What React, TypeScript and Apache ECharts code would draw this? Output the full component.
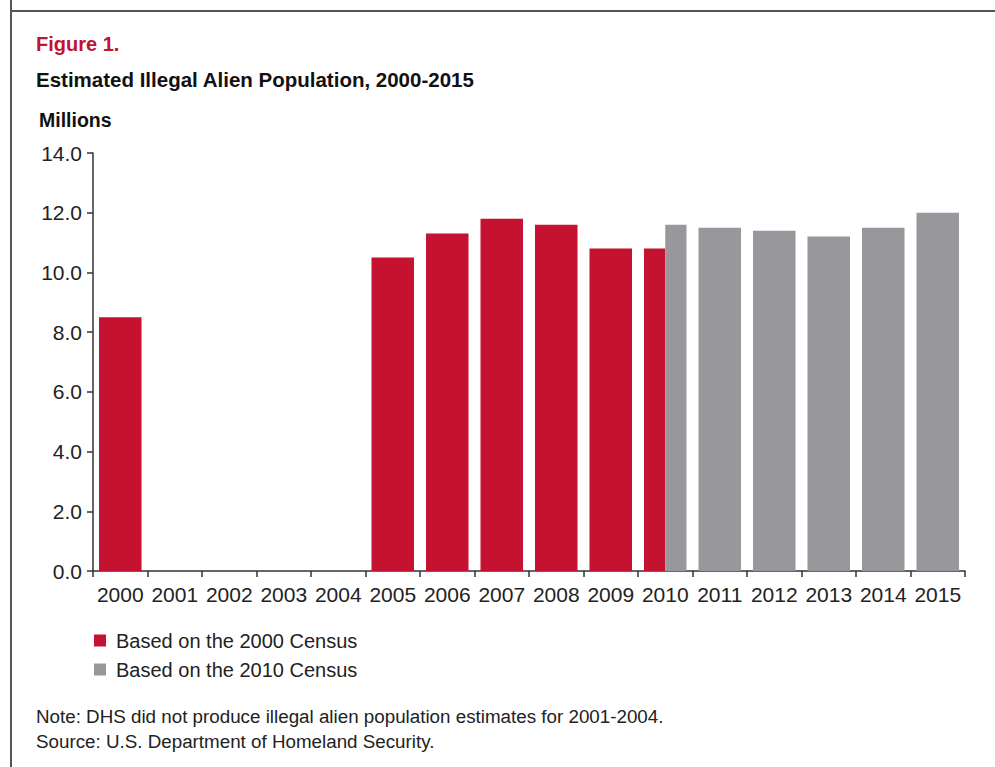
import React, { useEffect, useRef } from "react";
import * as echarts from "echarts";

const years = ["2000","2001","2002","2003","2004","2005","2006","2007","2008","2009","2010","2011","2012","2013","2014","2015"];
const census2000: (number | null)[] = [8.5, null, null, null, null, 10.5, 11.3, 11.8, 11.6, 10.8, 10.8, null, null, null, null, null];
const census2010: (number | null)[] = [null, null, null, null, null, null, null, null, null, null, 11.6, 11.5, 11.4, 11.2, 11.5, 12.0];
const yTicks = [0, 2, 4, 6, 8, 10, 12, 14];

const RED = "#c41230";
const GREY = "#98979b";
const FONT = "'Liberation Sans', Arial, sans-serif";

// part: 0 = full bar, 1 = left half, 2 = right half
function buildData(own: (number | null)[], other: (number | null)[], side: 1 | 2) {
  const out: [number, number, number][] = [];
  own.forEach((v, i) => {
    if (v === null) return;
    const part = other[i] !== null ? side : 0;
    out.push([i, v, part]);
  });
  return out;
}

function renderBar(color: string) {
  return (params: any, api: any) => {
    const idx = api.value(0);
    const v = api.value(1);
    const part = api.value(2);
    const base = api.coord([idx, 0]);
    const top = api.coord([idx, v]);
    const w = api.size([1, 0])[0] * 0.78;
    let x0 = base[0] - w / 2;
    let width = w;
    if (part === 1) width = w / 2;
    if (part === 2) { x0 = base[0]; width = w / 2; }
    return {
      type: "rect",
      shape: { x: x0, y: top[1], width, height: base[1] - top[1] },
      style: { fill: color },
    };
  };
}

export default function App() {
  const ref = useRef<HTMLDivElement>(null);
  useEffect(() => {
    if (!ref.current) return;
    const chart = echarts.init(ref.current, undefined, { renderer: "svg" });
    chart.setOption({
      animation: false,
      backgroundColor: "#ffffff",
      textStyle: { fontFamily: FONT },
      grid: { left: 93, top: 153, width: 872, height: 418, containLabel: false },
      xAxis: {
        type: "category",
        data: years,
        boundaryGap: true,
        axisLine: { lineStyle: { color: "#333", width: 1.5 } },
        axisTick: { show: true, length: 6, alignWithLabel: false, lineStyle: { color: "#333", width: 1.5 } },
        axisLabel: { color: "#222", fontSize: 21, margin: 13, interval: 0, fontFamily: FONT },
        splitLine: { show: false },
      },
      yAxis: {
        type: "value",
        min: yTicks[0],
        max: yTicks[yTicks.length - 1],
        interval: 2,
        axisLine: { show: true, lineStyle: { color: "#333", width: 1.5 } },
        axisTick: { show: true, length: 6, lineStyle: { color: "#333", width: 1.5 } },
        axisLabel: { color: "#222", fontSize: 21, margin: 11, fontFamily: FONT, formatter: (v: number) => v.toFixed(1) },
        splitLine: { show: false },
      },
      legend: {
        orient: "vertical",
        left: 94,
        top: 630,
        padding: 0,
        icon: "rect",
        itemWidth: 12,
        itemHeight: 12,
        itemGap: 8,
        textStyle: { fontSize: 20, color: "#222", lineHeight: 21, fontFamily: FONT, padding: [0, 0, 0, 5] },
        data: ["Based on the 2000 Census", "Based on the 2010 Census"],
      },
      series: [
        {
          type: "custom",
          name: "Based on the 2000 Census",
          itemStyle: { color: RED },
          renderItem: renderBar(RED),
          data: buildData(census2000, census2010, 1),
          encode: { x: 0, y: 1 },
        },
        {
          type: "custom",
          name: "Based on the 2010 Census",
          itemStyle: { color: GREY },
          renderItem: renderBar(GREY),
          data: buildData(census2010, census2000, 2),
          encode: { x: 0, y: 1 },
        },
      ],
      graphic: [
        { type: "line", shape: { x1: 11, y1: 0, x2: 11, y2: 767 }, style: { stroke: "#555", lineWidth: 2 } },
        { type: "line", shape: { x1: 10, y1: 11, x2: 995, y2: 11 }, style: { stroke: "#555", lineWidth: 2 } },
        { type: "text", x: 36, y: 44, style: { text: "Figure 1.", fill: RED, font: `bold 20px ${FONT}`, verticalAlign: "middle" } },
        { type: "text", x: 36, y: 79, style: { text: "Estimated Illegal Alien Population, 2000-2015", fill: "#111", font: `bold 20.5px ${FONT}`, verticalAlign: "middle" } },
        { type: "text", x: 39, y: 120, style: { text: "Millions", fill: "#111", font: `bold 19.5px ${FONT}`, verticalAlign: "middle" } },
        { type: "text", x: 36, y: 716, style: { text: "Note: DHS did not produce illegal alien population estimates for 2001-2004.", fill: "#222", font: `18.8px ${FONT}`, verticalAlign: "middle" } },
        { type: "text", x: 36, y: 741, style: { text: "Source: U.S. Department of Homeland Security.", fill: "#222", font: `18.8px ${FONT}`, verticalAlign: "middle" } },
      ],
    });
    return () => chart.dispose();
  }, []);
  return <div ref={ref} style={{ position: "fixed", left: 0, top: 0, width: 995, height: 767 }} />;
}
